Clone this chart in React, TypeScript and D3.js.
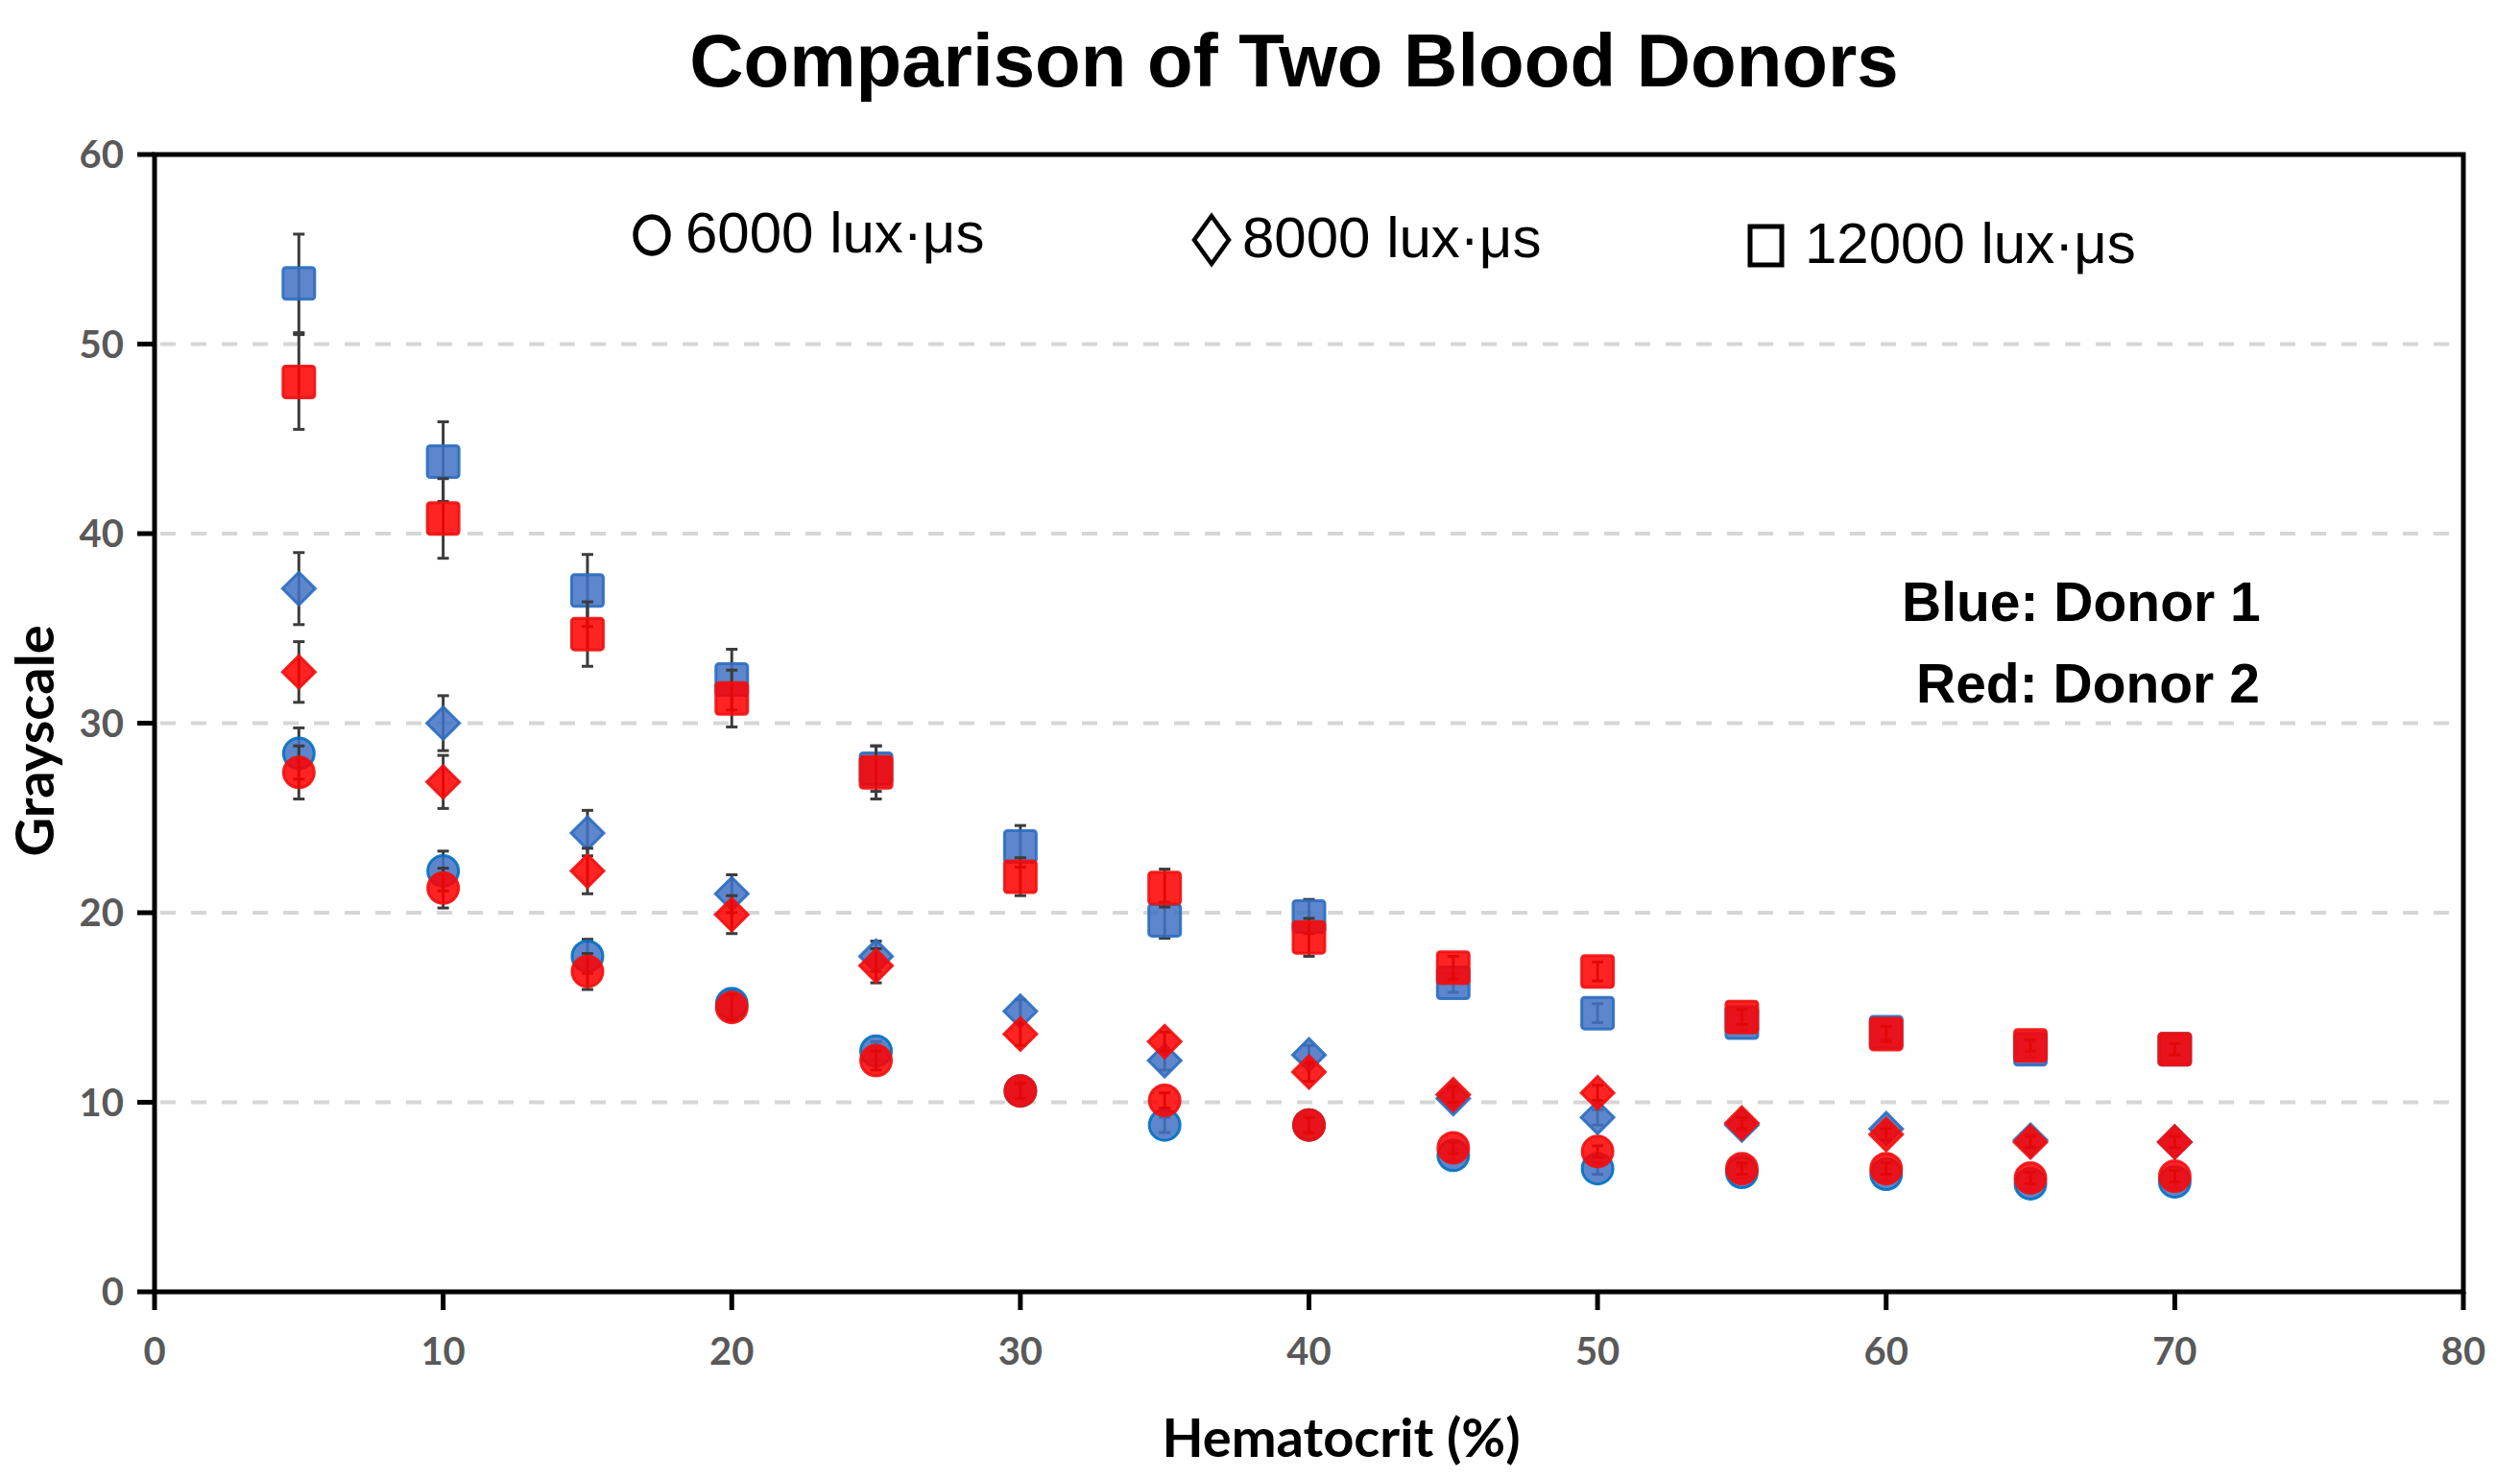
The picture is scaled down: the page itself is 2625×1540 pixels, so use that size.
import React from 'react';
import * as d3 from 'd3';

// Hematocrit levels (%)
const hematocrit = [5, 10, 15, 20, 25, 30, 35, 40, 45, 50, 55, 60, 65, 70];

// Donor 1 (blue)
const donor1Lux6000 = [28.4, 22.2, 17.7, 15.2, 12.7, 10.6, 8.8, 8.8, 7.2, 6.5, 6.3, 6.2, 5.7, 5.8];
const donor1Lux6000Err = [1.35, 1.05, 0.9, 0.7, 0.5, 0.4, 0.4, 0.4, 0.3, 0.3, 0.3, 0.3, 0.3, 0.3];
const donor1Lux8000 = [37.1, 30.0, 24.2, 21.0, 17.7, 14.8, 12.2, 12.5, 10.2, 9.2, 8.8, 8.6, 8.0, 7.9];
const donor1Lux8000Err = [1.9, 1.45, 1.2, 1.0, 0.8, 0.6, 0.5, 0.5, 0.4, 0.4, 0.3, 0.3, 0.3, 0.3];
const donor1Lux12000 = [53.2, 43.8, 37.0, 32.3, 27.6, 23.5, 19.6, 19.8, 16.3, 14.7, 14.2, 13.7, 12.8, 12.8];
const donor1Lux12000Err = [2.6, 2.1, 1.9, 1.6, 1.2, 1.1, 0.95, 0.9, 0.5, 0.5, 0.4, 0.4, 0.4, 0.3];

// Donor 2 (red)
const donor2Lux6000 = [27.4, 21.3, 16.9, 15.0, 12.2, 10.6, 10.1, 8.8, 7.6, 7.4, 6.5, 6.5, 6.0, 6.1];
const donor2Lux6000Err = [1.4, 1.05, 0.95, 0.7, 0.5, 0.4, 0.4, 0.4, 0.3, 0.3, 0.3, 0.3, 0.3, 0.3];
const donor2Lux8000 = [32.7, 26.9, 22.2, 19.9, 17.2, 13.6, 13.2, 11.6, 10.4, 10.5, 8.9, 8.3, 7.9, 7.9];
const donor2Lux8000Err = [1.6, 1.4, 1.2, 1.0, 0.9, 0.6, 0.5, 0.5, 0.4, 0.4, 0.3, 0.3, 0.3, 0.3];
const donor2Lux12000 = [48.0, 40.8, 34.7, 31.3, 27.4, 21.9, 21.3, 18.7, 17.1, 16.9, 14.5, 13.6, 13.0, 12.8];
const donor2Lux12000Err = [2.5, 2.1, 1.7, 1.5, 1.4, 1.0, 1.0, 1.0, 0.6, 0.5, 0.4, 0.4, 0.3, 0.3];

const xTicks = [0, 10, 20, 30, 40, 50, 60, 70, 80];
const yTicks = [0, 10, 20, 30, 40, 50, 60];
const gridTicks = [10, 20, 30, 40, 50];

const legendLabels = ['6000 lux·μs', '8000 lux·μs', '12000 lux·μs'];

type Shape = 'circle' | 'diamond' | 'square';

const W = 2625;
const H = 1540;
const margin = { top: 161, right: 59, bottom: 194, left: 161 };

const BLUE = '#4472c4';
const BLUE_EDGE = '#2a6dc0';
const RED = '#ff0000';
const RED_EDGE = '#f01010';
const tickFont = 'Lato, "Open Sans", sans-serif';
const arial = '"Liberation Sans", Arial, sans-serif';

function Marker({ shape, x, y, fill, stroke }: { shape: Shape; x: number; y: number; fill: string; stroke: string }) {
  const common = { fill, fillOpacity: 0.86, stroke, strokeWidth: 3, strokeOpacity: 0.9 };
  if (shape === 'circle') return <circle cx={x} cy={y} r={16} {...common} />;
  if (shape === 'diamond') {
    const s = 17;
    return <path d={`M${x},${y - s}L${x + s},${y}L${x},${y + s}L${x - s},${y}Z`} {...common} />;
  }
  return <rect x={x - 16.5} y={y - 16.5} width={33} height={33} rx={3} {...common} />;
}

export default function App() {
  const innerW = W - margin.left - margin.right;
  const innerH = H - margin.top - margin.bottom;

  const x = d3.scaleLinear().domain([0, 80]).range([margin.left, margin.left + innerW]);
  const y = d3.scaleLinear().domain([0, 60]).range([margin.top + innerH, margin.top]);

  const series = [
    { shape: 'circle' as Shape, vals: donor1Lux6000, err: donor1Lux6000Err, fill: BLUE, stroke: '#0070c0' },
    { shape: 'diamond' as Shape, vals: donor1Lux8000, err: donor1Lux8000Err, fill: BLUE, stroke: BLUE_EDGE },
    { shape: 'square' as Shape, vals: donor1Lux12000, err: donor1Lux12000Err, fill: BLUE, stroke: BLUE_EDGE },
    { shape: 'circle' as Shape, vals: donor2Lux6000, err: donor2Lux6000Err, fill: RED, stroke: RED_EDGE },
    { shape: 'diamond' as Shape, vals: donor2Lux8000, err: donor2Lux8000Err, fill: RED, stroke: RED_EDGE },
    { shape: 'square' as Shape, vals: donor2Lux12000, err: donor2Lux12000Err, fill: RED, stroke: RED_EDGE },
  ];

  const x0 = x(0);
  const x1 = x(80);
  const yBottom = y(0);
  const yTop = y(60);

  return (
    <svg
      width={W}
      height={H}
      style={{ position: 'absolute', left: 0, top: 0, background: '#fff' }}
    >
      <rect x={0} y={0} width={W} height={H} fill="#fff" />

      {/* title */}
      <text x={1348} y={90} textAnchor="middle" fontFamily={arial} fontWeight="bold" fontSize={78} fill="#000">
        Comparison of Two Blood Donors
      </text>

      {/* gridlines */}
      {gridTicks.map((t) => (
        <line key={t} x1={x0 + 6} x2={x1 - 6} y1={y(t)} y2={y(t)} stroke="#d6d6d6" strokeWidth={4} strokeDasharray="16,16" />
      ))}

      {/* series: error bars then markers, blue first then red */}
      {series.map((s, si) => (
        <g key={si}>
          {s.vals.map((v, i) => {
            const cx = x(hematocrit[i]);
            const yHi = y(v + s.err[i]);
            const yLo = y(v - s.err[i]);
            return (
              <g key={i} stroke="#3c3c3c" strokeWidth={3}>
                <line x1={cx} x2={cx} y1={yHi} y2={yLo} />
                <line x1={cx - 6} x2={cx + 6} y1={yHi} y2={yHi} />
                <line x1={cx - 6} x2={cx + 6} y1={yLo} y2={yLo} />
              </g>
            );
          })}
          {s.vals.map((v, i) => (
            <Marker key={i} shape={s.shape} x={x(hematocrit[i])} y={y(v)} fill={s.fill} stroke={s.stroke} />
          ))}
        </g>
      ))}

      {/* frame */}
      <rect x={x0} y={yTop} width={x1 - x0} height={yBottom - yTop} fill="none" stroke="#000" strokeWidth={5} />

      {/* x ticks */}
      {xTicks.map((t) => (
        <g key={t}>
          <line x1={x(t)} x2={x(t)} y1={yBottom} y2={yBottom + 19} stroke="#000" strokeWidth={5} />
          <text x={x(t)} y={1422} textAnchor="middle" fontFamily={tickFont} fontWeight="bold" fontSize={40} fill="#595959">
            {t}
          </text>
        </g>
      ))}

      {/* y ticks */}
      {yTicks.map((t) => (
        <g key={t}>
          <line x1={x0 - 18} x2={x0} y1={y(t)} y2={y(t)} stroke="#000" strokeWidth={5} />
          <text x={129} y={y(t) + 14} textAnchor="end" fontFamily={tickFont} fontWeight="bold" fontSize={40} fill="#595959">
            {t}
          </text>
        </g>
      ))}

      {/* axis titles */}
      <text
        transform="translate(56,772) rotate(-90)"
        textAnchor="middle"
        fontFamily={tickFont}
        fontWeight="bold"
        fontSize={56}
        fill="#000"
      >
        Grayscale
      </text>
      <text x={1397} y={1518} textAnchor="middle" fontFamily={tickFont} fontWeight="bold" fontSize={56} fill="#000">
        Hematocrit (%)
      </text>

      {/* legend for exposure */}
      <ellipse cx={679} cy={245} rx={17} ry={19} fill="none" stroke="#000" strokeWidth={5.5} />
      <text x={714} y={263} fontFamily={arial} fontSize={60} fill="#000">{legendLabels[0]}</text>

      <path d="M1262,225L1280,250L1262,275L1244,250Z" fill="none" stroke="#000" strokeWidth={4.5} />
      <text x={1294} y={268} fontFamily={arial} fontSize={60} fill="#000">{legendLabels[1]}</text>

      <rect x={1823} y={236} width={33} height={40} fill="none" stroke="#000" strokeWidth={5} />
      <text x={1880} y={274} fontFamily={arial} fontSize={60} fill="#000">{legendLabels[2]}</text>

      {/* donor legend */}
      <text x={1981} y={647} fontFamily={arial} fontWeight="bold" fontSize={57} fill="#000">Blue: Donor 1</text>
      <text x={1996} y={732} fontFamily={arial} fontWeight="bold" fontSize={57} fill="#000">Red: Donor 2</text>
    </svg>
  );
}
